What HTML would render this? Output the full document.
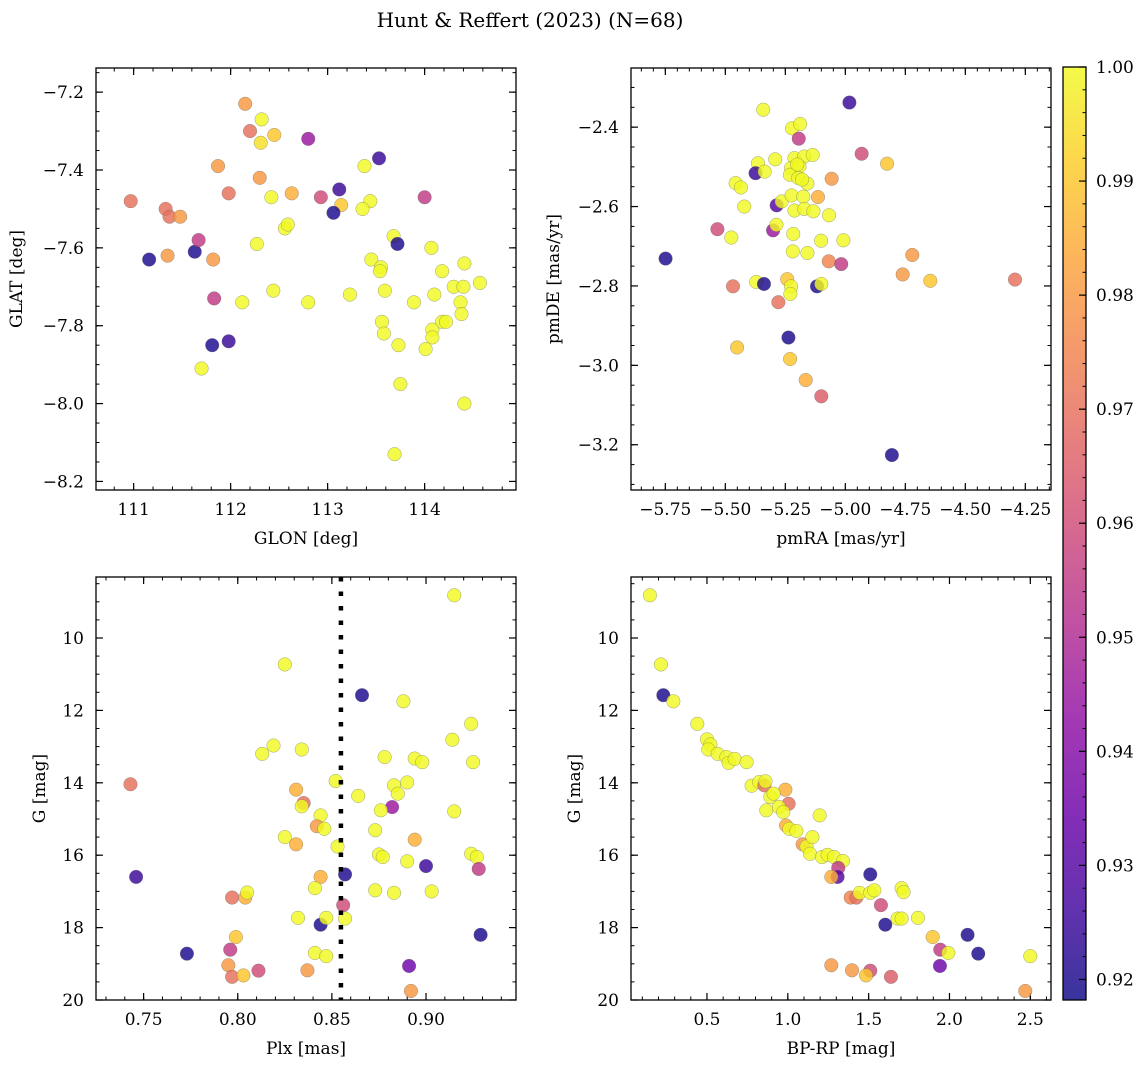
<!DOCTYPE html>
<html><head><meta charset="utf-8">
<style>
html,body{margin:0;padding:0;background:#fff;}
svg text{font-family:"DejaVu Serif","Liberation Serif",serif;fill:#000;}
</style></head>
<body>
<svg id="fig" width="1148" height="1067" viewBox="0 0 1148 1067" xmlns="http://www.w3.org/2000/svg">
<defs>
<linearGradient id="plasmaGrad" x1="0" y1="1" x2="0" y2="0">
<stop offset="0" stop-color="#0d0887"/><stop offset="0.1" stop-color="#41049d"/><stop offset="0.2" stop-color="#6a00a8"/><stop offset="0.3" stop-color="#8f0da4"/><stop offset="0.4" stop-color="#b12a90"/><stop offset="0.5" stop-color="#cc4778"/><stop offset="0.6" stop-color="#e16462"/><stop offset="0.7" stop-color="#f2844b"/><stop offset="0.8" stop-color="#fca636"/><stop offset="0.9" stop-color="#fcce25"/><stop offset="1" stop-color="#f0f921"/>
</linearGradient>
</defs>
<text x="530" y="27" font-size="20" text-anchor="middle">Hunt &amp; Reffert (2023) (N=68)</text>
</svg>
<script>
// ---- Data: top-left (GLON vs GLAT)
const tlX=[110.97,111.33,111.37,111.48,111.16,111.35,111.63,111.67,111.82,111.83,111.81,111.98,111.70,112.15,112.32,112.20,112.31,112.45,111.87,112.30,111.98,112.42,112.63,112.56,112.59,112.27,112.12,112.44,112.80,112.80,112.93,113.12,113.14,113.06,113.23,113.38,113.53,113.44,113.36,113.45,113.55,113.54,113.59,113.56,113.58,113.68,113.72,113.73,113.75,113.69,113.89,114.00,114.07,114.10,114.18,114.18,114.22,114.08,114.08,114.01,114.30,114.40,114.41,114.37,114.38,114.57,114.41];
const tlY=[-7.48,-7.50,-7.52,-7.52,-7.63,-7.62,-7.61,-7.58,-7.63,-7.73,-7.85,-7.84,-7.91,-7.23,-7.27,-7.30,-7.33,-7.31,-7.39,-7.42,-7.46,-7.47,-7.46,-7.55,-7.54,-7.59,-7.74,-7.71,-7.32,-7.74,-7.47,-7.45,-7.49,-7.51,-7.72,-7.39,-7.37,-7.48,-7.50,-7.63,-7.65,-7.66,-7.71,-7.79,-7.82,-7.57,-7.59,-7.85,-7.95,-8.13,-7.74,-7.47,-7.60,-7.72,-7.66,-7.79,-7.79,-7.81,-7.83,-7.86,-7.70,-7.70,-7.64,-7.74,-7.77,-7.69,-8.00];
const tlP=[.97,.97,.97,.98,.92,.98,.92,.955,.98,.955,.92,.925,1,.98,1,.97,.995,.99,.98,.98,.97,1,.985,1,1,1,1,1,.945,1,.96,.925,.99,.92,1,1,.925,1,1,1,1,1,1,1,1,1,.92,1,1,1,1,.955,1,1,1,1,1,1,1,1,1,1,1,1,1,1,1];
// ---- Data: top-right (pmRA vs pmDE)
const trX=[-4.983,-5.342,-5.222,-5.188,-5.194,-4.932,-4.826,-5.364,-5.292,-5.374,-5.336,-5.212,-5.171,-5.136,-5.226,-5.191,-5.231,-5.196,-5.158,-5.057,-5.457,-5.435,-5.421,-5.286,-5.265,-5.224,-5.175,-5.114,-5.212,-5.171,-5.133,-5.068,-5.533,-5.475,-5.301,-5.287,-5.217,-5.101,-5.008,-5.219,-5.158,-5.749,-5.069,-5.017,-4.721,-4.761,-4.646,-4.293,-5.371,-5.339,-5.468,-5.242,-5.226,-5.229,-5.118,-5.100,-5.279,-5.237,-5.451,-5.230,-5.165,-5.100,-4.806,-5.200,-5.180];
const trY=[-2.338,-2.356,-2.403,-2.392,-2.429,-2.467,-2.492,-2.491,-2.481,-2.516,-2.512,-2.478,-2.474,-2.470,-2.503,-2.499,-2.520,-2.528,-2.542,-2.530,-2.541,-2.552,-2.600,-2.597,-2.587,-2.572,-2.575,-2.576,-2.610,-2.606,-2.612,-2.622,-2.657,-2.678,-2.660,-2.646,-2.669,-2.686,-2.685,-2.713,-2.717,-2.731,-2.738,-2.745,-2.722,-2.771,-2.787,-2.784,-2.790,-2.795,-2.801,-2.783,-2.801,-2.820,-2.801,-2.795,-2.841,-2.930,-2.955,-2.984,-3.037,-3.078,-3.226,-2.494,-2.532];
const trP=[.925,1,1,1,.955,.96,.99,1,1,.925,1,1,1,1,1,1,1,1,1,.98,1,1,1,.93,1,1,1,.985,1,1,1,1,.96,1,.945,1,1,1,1,1,1,.92,.975,.955,.98,.98,.99,.97,1,.92,.97,.99,1,1,.92,1,.97,.92,.99,.99,.985,.965,.92,1,1];
// ---- Data: bottom-left (Plx vs G)
const blX=[0.915,0.825,0.866,0.888,0.924,0.914,0.813,0.819,0.834,0.878,0.894,0.898,0.925,0.743,0.852,0.831,0.835,0.834,0.864,0.883,0.890,0.885,0.882,0.876,0.915,0.844,0.842,0.846,0.825,0.831,0.853,0.873,0.894,0.875,0.877,0.890,0.900,0.924,0.927,0.928,0.746,0.857,0.844,0.841,0.873,0.883,0.903,0.797,0.804,0.805,0.856,0.832,0.844,0.847,0.857,0.929,0.799,0.773,0.796,0.841,0.847,0.795,0.797,0.803,0.811,0.837,0.891,0.892];
const blY=[8.82,10.73,11.58,11.75,12.37,12.81,13.20,12.97,13.08,13.29,13.33,13.43,13.43,14.04,13.95,14.19,14.56,14.65,14.36,14.07,13.99,14.30,14.67,14.76,14.79,14.90,15.20,15.27,15.50,15.70,15.76,15.31,15.57,15.98,16.05,16.17,16.30,15.96,16.05,16.38,16.60,16.53,16.60,16.91,16.97,17.04,17.00,17.17,17.17,17.03,17.38,17.73,17.92,17.73,17.75,18.20,18.26,18.72,18.61,18.70,18.79,19.04,19.36,19.32,19.19,19.18,19.06,19.75];
const blP=[1,1,.92,1,1,1,1,1,1,1,1,1,1,.97,1,.985,.97,1,1,1,1,1,.945,1,1,1,.98,1,1,.985,1,1,.985,1,1,1,.925,1,1,.955,.925,.92,.985,1,1,1,1,.97,.985,1,.96,1,.92,1,1,.92,.99,.92,.955,1,1,.98,.97,.99,.96,.98,.935,.98];
const plxCut=[0.8548];
// ---- Data: bottom-right (BP-RP vs G)
const brX=[0.147,0.215,0.230,0.292,0.440,0.500,0.521,0.508,0.566,0.620,0.634,0.671,0.745,0.776,0.823,0.855,0.862,0.985,0.892,0.912,1.005,0.867,0.945,0.972,1.197,0.989,1.009,1.053,1.092,1.116,1.152,1.137,1.211,1.246,1.286,1.341,1.312,1.308,1.269,1.510,1.389,1.424,1.444,1.510,1.535,1.704,1.716,1.576,1.603,1.679,1.704,1.805,1.896,2.112,1.943,1.993,2.178,2.500,1.941,1.269,1.397,1.510,1.484,1.638,2.469];
const brY=[8.82,10.73,11.58,11.75,12.37,12.80,12.94,13.08,13.20,13.29,13.45,13.34,13.43,14.08,13.98,14.07,13.96,14.19,14.39,14.30,14.58,14.76,14.67,14.81,14.90,15.18,15.27,15.33,15.70,15.76,15.50,15.96,16.05,15.99,16.05,16.16,16.35,16.60,16.60,16.53,17.17,17.17,17.04,17.04,16.97,16.91,17.02,17.38,17.92,17.75,17.75,17.73,18.26,18.20,18.61,18.70,18.72,18.79,19.06,19.04,19.18,19.19,19.32,19.36,19.75];
const brP=[1,1,.92,1,1,1,1,1,1,1,1,1,1,1,1,.97,1,.985,1,1,.97,1,1,1,1,.985,1,1,.98,1,1,1,1,1,1,1,.955,.93,.985,.92,.975,.97,1,1,1,1,1,.96,.92,1,1,1,.99,.92,.955,1,.92,1,.935,.98,.98,.96,.99,.965,.98];
// ---- Tick labels
const tlXTicks=[111,112,113,114];
const tlYTicks=[-7.2,-7.4,-7.6,-7.8,-8.0,-8.2];
const trXTicks=[-5.75,-5.5,-5.25,-5.0,-4.75,-4.5,-4.25];
const trYTicks=[-2.4,-2.6,-2.8,-3.0,-3.2];
const blXTicks=[0.75,0.80,0.85,0.90];
const gTicks=[10,12,14,16,18,20];
const brXTicks=[0.5,1.0,1.5,2.0,2.5];
const cbTicks=[1.00,0.99,0.98,0.97,0.96,0.95,0.94,0.93,0.92];

const NS="http://www.w3.org/2000/svg";
const svg=document.getElementById('fig');
const VMIN=0.9182,VMAX=1.0;
const stops=[[13,8,135],[65,4,157],[106,0,168],[143,13,164],[177,42,144],[204,71,120],[225,100,98],[242,132,75],[252,166,54],[252,206,37],[240,249,33]];
function plasma(v){let t=Math.max(0,Math.min(1,(v-VMIN)/(VMAX-VMIN)))*10;let i=Math.min(9,Math.floor(t));let f=t-i;const a=stops[i],b=stops[i+1];
return 'rgb('+a.map((c,k)=>Math.round(c+(b[k]-c)*f)).join(',')+')';}
function mk(tag,attrs,parent){const e=document.createElementNS(NS,tag);for(const k in attrs)e.setAttribute(k,attrs[k]);(parent||svg).appendChild(e);return e;}
function lin(d0,d1,r0,r1){return v=>r0+(v-d0)/(d1-d0)*(r1-r0);}
function fmt(v,dec){let s=v.toFixed(dec);return s.replace('-','\u2212');}

function panel(cfg){
  const g=mk('g',{});
  
  
  const {L,T,R,B}=cfg;
  const sx=lin(cfg.xd[0],cfg.xd[1],L,R), sy=lin(cfg.yd[0],cfg.yd[1],T,B);
  const xlo=Math.min(...cfg.xd),xhi=Math.max(...cfg.xd),ylo=Math.min(...cfg.yd),yhi=Math.max(...cfg.yd);
  for(let v=Math.ceil(xlo/cfg.xminor)*cfg.xminor;v<=xhi;v+=cfg.xminor){const x=sx(v);
    mk('line',{x1:x,x2:x,y1:B,y2:B-3.5,stroke:'#000','stroke-width':1},g);mk('line',{x1:x,x2:x,y1:T,y2:T+3.5,stroke:'#000','stroke-width':1},g);}
  for(let v=Math.ceil(ylo/cfg.yminor)*cfg.yminor;v<=yhi;v+=cfg.yminor){const y=sy(v);
    mk('line',{x1:L,x2:L+3.5,y1:y,y2:y,stroke:'#000','stroke-width':1},g);mk('line',{x1:R,x2:R-3.5,y1:y,y2:y,stroke:'#000','stroke-width':1},g);}
  cfg.xt.forEach(v=>{const x=sx(v);
    mk('line',{x1:x,x2:x,y1:B,y2:B-7,stroke:'#000','stroke-width':1.2},g);mk('line',{x1:x,x2:x,y1:T,y2:T+7,stroke:'#000','stroke-width':1.2},g);
    const t=mk('text',{x:x,y:B+25,'font-size':17,'text-anchor':'middle'},g);t.textContent=fmt(v,cfg.xdec);
    
    });
  cfg.yt.forEach(v=>{const y=sy(v);
    mk('line',{x1:L,x2:L+7,y1:y,y2:y,stroke:'#000','stroke-width':1.2},g);mk('line',{x1:R,x2:R-7,y1:y,y2:y,stroke:'#000','stroke-width':1.2},g);
    const t=mk('text',{x:L-12,y:y+6,'font-size':17,'text-anchor':'end'},g);t.textContent=fmt(v,cfg.ydec);
    
    });
  const pts=mk('g',{},g);
  cfg.X.forEach((xv,i)=>{const c=mk('circle',{cx:sx(xv),cy:sy(cfg.Y[i]),r:6.8,fill:plasma(cfg.P[i]),'fill-opacity':0.82,stroke:'#666','stroke-opacity':0.6,'stroke-width':0.5},pts);
    
    });
  if(cfg.vline){cfg.vline.forEach(v=>{const l=mk('line',{x1:sx(v),x2:sx(v),y1:T,y2:B,stroke:'#000','stroke-width':4.5,'stroke-dasharray':'4.5 10'},g);
    
    });}
  mk('rect',{x:L,y:T,width:R-L,height:B-T,fill:'none',stroke:'#000','stroke-width':1.3},g);
  const xl=mk('text',{x:(L+R)/2,y:B+54,'font-size':17,'text-anchor':'middle'},g);xl.textContent=cfg.xlabel;
  
  
  const yl=mk('text',{x:cfg.ylx,y:(T+B)/2,'font-size':17,'text-anchor':'middle',transform:'rotate(-90 '+cfg.ylx+' '+(T+B)/2+')'},g);yl.textContent=cfg.ylabel;
  
  
}
panel({name:'glon-glat-panel',L:96,T:68,R:516,B:490,xd:[110.612,114.942],yd:[-7.138,-8.222],xt:tlXTicks,yt:tlYTicks,xminor:0.2,yminor:0.05,xdec:0,ydec:1,X:tlX,Y:tlY,P:tlP,xlabel:'GLON [deg]',ylabel:'GLAT [deg]',ylx:22});
panel({name:'pm-panel',L:631,T:68,R:1051,B:490,xd:[-5.893,-4.143],yd:[-2.251,-3.314],xt:trXTicks,yt:trYTicks,xminor:0.05,yminor:0.05,xdec:2,ydec:1,X:trX,Y:trY,P:trP,xlabel:'pmRA [mas/yr]',ylabel:'pmDE [mas/yr]',ylx:559});
panel({name:'plx-g-panel',L:96,T:577,R:516,B:1000,xd:[0.7247,0.9478],yd:[8.315,20],xt:blXTicks,yt:gTicks,xminor:0.01,yminor:0.5,xdec:2,ydec:0,X:blX,Y:blY,P:blP,xlabel:'Plx [mas]',ylabel:'G [mag]',ylx:45,vline:plxCut});
panel({name:'cmd-panel',L:631,T:577,R:1051,B:1000,xd:[0.030,2.628],yd:[8.315,20],xt:brXTicks,yt:gTicks,xminor:0.1,yminor:0.5,xdec:1,ydec:0,X:brX,Y:brY,P:brP,xlabel:'BP-RP [mag]',ylabel:'G [mag]',ylx:580});

// colorbar
const cb=mk('g',{});


const CL=1063,CR=1086,CT=67,CB=1000;
const cy=lin(VMIN,VMAX,CB,CT);
mk('rect',{x:CL,y:CT,width:CR-CL,height:CB-CT,fill:'url(#plasmaGrad)','fill-opacity':0.82},cb);
for(let v=0.92;v<1.0;v+=0.002){const y=cy(v);mk('line',{x1:CR,x2:CR-3.5,y1:y,y2:y,stroke:'#000','stroke-width':1},cb);}
cbTicks.forEach(v=>{const y=cy(v);mk('line',{x1:CR,x2:CR-7,y1:y,y2:y,stroke:'#000','stroke-width':1.2},cb);
  const t=mk('text',{x:CR+10,y:y+6,'font-size':17},cb);t.textContent=v.toFixed(2);
  
  });
mk('rect',{x:CL,y:CT,width:CR-CL,height:CB-CT,fill:'none',stroke:'#000','stroke-width':1.3},cb);
</script>
</body></html>
